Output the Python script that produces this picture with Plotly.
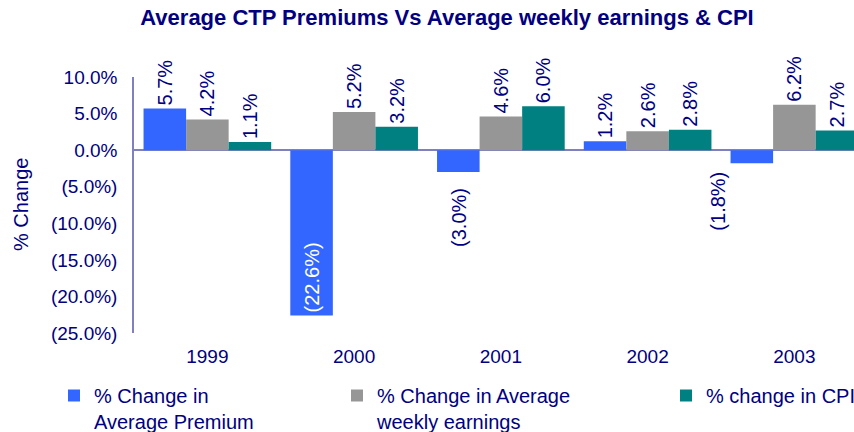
import plotly.graph_objects as go

years = ["1999", "2000", "2001", "2002", "2003"]
premium = [5.7, -22.6, -3.0, 1.2, -1.8]
earnings = [4.2, 5.2, 4.6, 2.6, 6.2]
cpi = [1.1, 3.2, 6.0, 2.8, 2.7]

series_names = ["% Change in<br>Average Premium", "% Change in Average<br>weekly earnings", "% change in CPI"]
series_colors = ["#3366FF", "#969696", "#008080"]

y_tickvals = [10, 5, 0, -5, -10, -15, -20, -25]

NAVY = "#000080"
FONT = "Liberation Sans, Arial, sans-serif"


def fmt(v):
    return f"({abs(v):.1f}%)" if v < 0 else f"{v:.1f}%"


W, H = 854, 432
ML, MR, MT, MB = 134, 0, 77, 99
cat_px = 146.75
BARGAP = 0.13
plot_w = W - ML - MR
bar_px = cat_px * (1 - BARGAP) / 3

fig = go.Figure()
legends = ["legend", "legend2", "legend3"]
for i, (vals, name, col) in enumerate(zip([premium, earnings, cpi], series_names, series_colors)):
    texts, positions = [], []
    for v in vals:
        if -10 < v < 0:
            texts.append("")
            positions.append("none")
        elif v <= -10:
            texts.append(fmt(v))
            positions.append("inside")
        else:
            texts.append(fmt(v))
            positions.append("outside")
    fig.add_trace(go.Bar(
        x=years, y=vals, name=name, marker=dict(color=col, line=dict(width=0)),
        text=texts, textposition=positions, textangle=-90,
        insidetextanchor="end", constraintext="none",
        outsidetextfont=dict(color=NAVY, size=20, family=FONT),
        insidetextfont=dict(color="white", size=20, family=FONT),
        cliponaxis=False, legend=legends[i], showlegend=True,
        hoverinfo="skip",
    ))

# Labels below the small negative premium bars (as placed in the original)
label_shifts = {2: (0, -14), 4: (-34, -6)}
for idx, (dx, dy) in label_shifts.items():
    fig.add_annotation(xref="x", yref="y", x=idx, y=premium[idx], text=fmt(premium[idx]),
                       textangle=-90, showarrow=False, yanchor="top", xanchor="center",
                       xshift=-bar_px + dx, yshift=dy,
                       font=dict(color=NAVY, size=20, family=FONT))

# y-axis title
fig.add_annotation(xref="paper", yref="paper", x=(21 - ML) / plot_w, y=0.5, text="% Change",
                   textangle=-90, showarrow=False, xanchor="center", yanchor="middle",
                   font=dict(color=NAVY, size=20, family=FONT))

fig.update_layout(
    width=W, height=H,
    margin=dict(l=ML, r=MR, t=MT, b=MB),
    plot_bgcolor="white", paper_bgcolor="white",
    barmode="group", bargap=BARGAP, bargroupgap=0,
    showlegend=True,
    title=dict(text="<b>Average CTP Premiums Vs Average weekly earnings & CPI</b>",
               x=447 / W, xanchor="center", y=1 - 17 / H, yanchor="middle",
               font=dict(color=NAVY, size=22, family=FONT)),
    font=dict(family=FONT, color=NAVY),
    xaxis=dict(range=[-0.5, -0.5 + plot_w / cat_px], showgrid=False, showline=False,
               ticks="", tickfont=dict(size=19, color=NAVY), ticklabelstandoff=10,
               zeroline=False),
    yaxis=dict(range=[-25, 10], tickvals=y_tickvals, ticktext=[fmt(v) for v in y_tickvals],
               showgrid=False, showline=True, linecolor="#8080C0", linewidth=1.5,
               zeroline=True, zerolinecolor="#8080C0", zerolinewidth=1.5,
               ticks="", tickfont=dict(size=19, color=NAVY), ticklabelstandoff=11),
)

leg_common = dict(orientation="h", xref="container", yref="container", xanchor="left",
                  yanchor="top", valign="top", bgcolor="rgba(0,0,0,0)",
                  font=dict(size=20, color=NAVY, family=FONT), itemwidth=30)
text_lefts = [94, 377, 706]
for ln, tl in zip(legends, text_lefts):
    fig.update_layout({ln: dict(leg_common, x=(tl - 40) / W, y=1 - 376 / H)})

fig.write_html("out.html", config={"displayModeBar": False},
               post_script="document.body.style.margin='0';")
